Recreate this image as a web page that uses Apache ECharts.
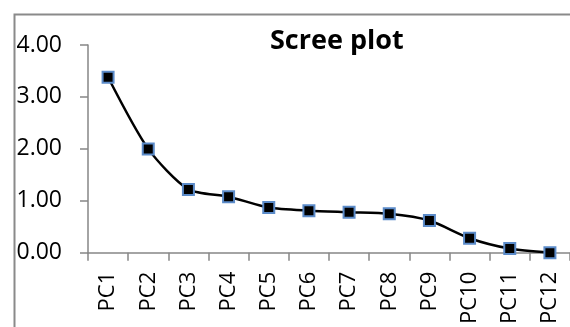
<!DOCTYPE html>
<html>
<head>
<meta charset="utf-8">
<script src="https://cdn.jsdelivr.net/npm/echarts@6/dist/echarts.min.js"></script>
<style>
html,body{margin:0;padding:0;background:#fff;}
#chart{width:570px;height:327px;}
</style>
</head>
<body>
<div id="chart"></div>
<script>
var categories = ["PC1","PC2","PC3","PC4","PC5","PC6","PC7","PC8","PC9","PC10","PC11","PC12"];
var eigenvalues = [3.38, 2.00, 1.22, 1.08, 0.87, 0.81, 0.78, 0.75, 0.62, 0.28, 0.08, 0.00];
var yTicks = [0, 1, 2, 3, 4];

var chart = echarts.init(document.getElementById('chart'), null, {renderer:'canvas'});
var axisGray = '#868686';
chart.setOption({
  animation: false,
  backgroundColor: '#ffffff',
  title: {
    text: 'Scree plot',
    left: 270,
    top: 28,
    padding: 0,
    textStyle: {fontFamily: 'Open Sans', fontWeight: 'bold', fontSize: 27, color: '#000'}
  },
  graphic: [{
    type: 'rect',
    left: 12, top: 12,
    shape: {width: 620, height: 400},
    style: {fill: 'none', stroke: '#8a8a8a', lineWidth: 2},
    silent: true, z: -1
  }],
  grid: {left: 88, top: 45, width: 494.4, height: 211, containLabel: false},
  xAxis: {
    type: 'category',
    data: categories,
    boundaryGap: true,
    axisLine: {lineStyle: {color: axisGray, width: 1.5}},
    axisTick: {show: true, length: 8, lineStyle: {color: axisGray, width: 1.5}},
    axisLabel: {rotate: 90, margin: 19, fontFamily: 'Open Sans', fontSize: 22, color: '#000', interval: 0}
  },
  yAxis: {
    type: 'value',
    min: yTicks[0], max: yTicks[yTicks.length-1], interval: 1,
    splitLine: {show: false},
    axisLine: {show: true, lineStyle: {color: axisGray, width: 1.5}},
    axisTick: {show: true, length: 8, lineStyle: {color: axisGray, width: 1.5}},
    axisLabel: {margin: 26, fontFamily: 'Open Sans', fontSize: 23, color: '#000',
      formatter: function(v){ return v.toFixed(2); }}
  },
  series: [{
    type: 'line',
    data: eigenvalues,
    smooth: 0.25,
    symbol: 'rect',
    symbolSize: 11,
    lineStyle: {color: '#000', width: 2.5},
    itemStyle: {color: '#000', borderColor: '#5b8bc9', borderWidth: 2},
    clip: false
  }]
});
</script>
</body>
</html>
